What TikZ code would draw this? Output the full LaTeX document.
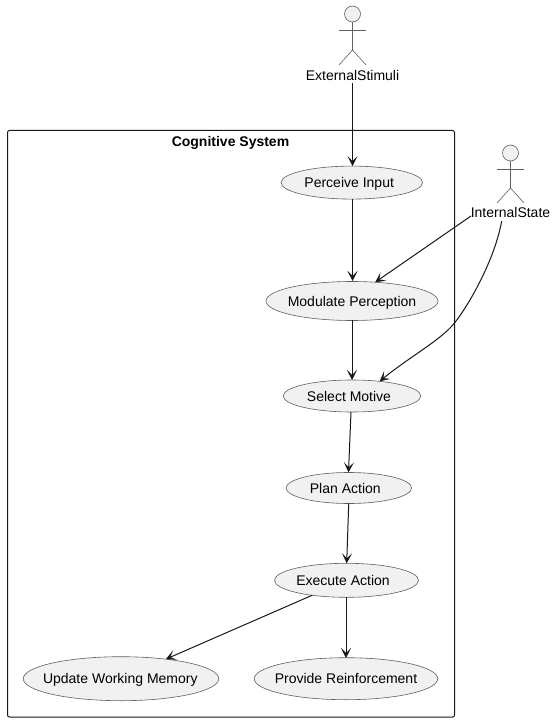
\documentclass[tikz,border=0pt]{standalone}
\usepackage{fontspec}
\setmainfont{Liberation Sans}
\usetikzlibrary{shapes.geometric,arrows.meta}
\definecolor{umlfill}{HTML}{F1F1F1}
\definecolor{umlline}{HTML}{181818}
\definecolor{umlthin}{HTML}{606060}
\tikzset{
  usecase/.style={ellipse,draw=umlthin,fill=umlfill,line width=0.6pt,inner sep=0pt,outer sep=0pt},
  textbox/.style={inner sep=0pt,outer sep=0pt,text height=13pt,text depth=3pt,font=\fontsize{14}{16}\selectfont,text=black},
  ucname/.style 2 args={label={[textbox,xshift=#1]center:#2}},
  actorline/.style={draw=umlthin,line width=0.6pt},
  actorhead/.style={circle,draw=umlthin,fill=umlfill,line width=0.6pt,minimum size=16pt,inner sep=0pt,outer sep=0pt},
  flow/.style={draw=umlline,line width=1pt,-{Stealth[length=10pt,width=10pt,inset=5pt]}},
  sysbox/.style={draw=umlline,line width=1pt,rounded corners=2pt}
}
\begin{document}
\begin{tikzpicture}[x=1pt,y=-1pt]
\useasboundingbox (0,0) rectangle (555,722);
\fill[white] (0,0) rectangle (555,722);
\draw[sysbox] (7.5,130.5) rectangle (454.5,717);
\node[textbox,font=\fontsize{14}{16}\selectfont\bfseries] (title) at (230.5,142) {Cognitive System};
\node[usecase,minimum width=141.5pt,minimum height=33pt,ucname={-2.6pt}{Perceive Input}] (perceive) at (351.8,182.6) {};
\node[usecase,minimum width=172pt,minimum height=39pt,ucname={0pt}{Modulate Perception}] (modulate) at (352,301) {};
\node[usecase,minimum width=137.5pt,minimum height=32pt,ucname={-3pt}{Select Motive}] (select) at (352,396) {};
\node[usecase,minimum width=125.5pt,minimum height=31pt,ucname={-3.5pt}{Plan Action}] (plan) at (348.8,488) {};
\node[usecase,minimum width=144pt,minimum height=34pt,ucname={-3.5pt}{Execute Action}] (execute) at (346.5,580.3) {};
\node[usecase,minimum width=195.5pt,minimum height=44pt,ucname={-0.7pt}{Update Working Memory}] (update) at (121,678.7) {};
\node[usecase,minimum width=183.5pt,minimum height=42pt,ucname={0pt}{Provide Reinforcement}] (provide) at (346,678.7) {};
% actors
\node[actorhead] (exthead) at (352.5,14) {};
\coordinate (extbody) at (352.5,50);
\draw[actorline] (exthead.south) -- (extbody);
\draw[actorline] (339,30) -- (366,30);
\draw[actorline] (339,65) -- (extbody) -- (366,65);
\node[textbox] (ext) at (352.5,75.5) {ExternalStimuli};
\node[actorhead] (inthead) at (510.5,153) {};
\coordinate (intbody) at (510.5,188);
\draw[actorline] (inthead.south) -- (intbody);
\draw[actorline] (497,169) -- (524,169);
\draw[actorline] (497,203) -- (intbody) -- (524,203);
\node[textbox] (int) at (510.5,212.7) {InternalState};
% connectors
\coordinate (extout) at (352.5,83);
\draw[flow] (extout) -- (perceive.north -| extout);
\draw[flow] (352.5,199.3) -- (352.5,281);
\draw[flow] (352,320.3) -- (352,380);
\draw[flow] (351,412) -- (348.5,472.3);
\draw[flow] (348.7,503.5) -- (346.7,563.3);
\draw[flow] (execute) -- (update);
\draw[flow] (346,597.3) -- (346,658);
\coordinate (intout) at (471,216);
\draw[flow] (intout) -- (modulate.39);
\coordinate (intcurve) at (501.7,221);
\coordinate (intmid) at (454.5,323);
\draw[flow] (intcurve) .. controls (495,258) and (471,302) .. (intmid) .. controls (441,340) and (409.3,357) .. (select.28);
\end{tikzpicture}
\end{document}
